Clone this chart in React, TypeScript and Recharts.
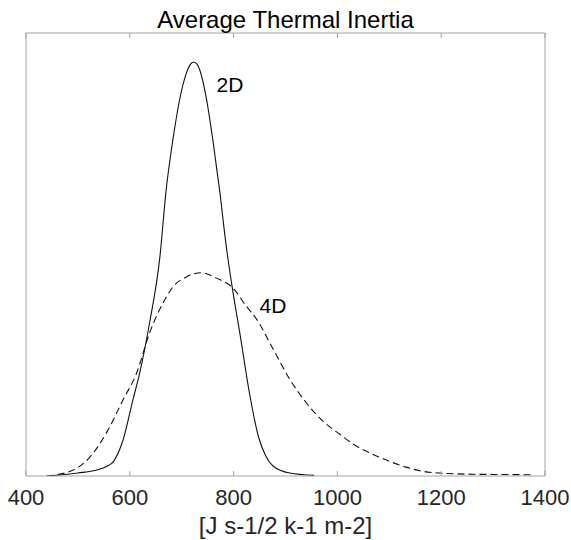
import * as React from "react"
import { Line, LineChart, ReferenceDot, XAxis, YAxis } from "recharts"

// kernel density estimates (x in J s-1/2 k-1 m-2, y density x1000)
const twoDX = [440, 500, 540, 555, 568, 587, 606, 619, 638, 658, 670, 683, 696, 709, 716, 723, 730, 735, 747, 760, 773, 786, 799, 812, 831, 848, 862, 876, 908, 955]
const twoDY = [0, 0.05, 0.11, 0.16, 0.24, 0.61, 1.29, 1.74, 2.59, 3.71, 4.84, 5.69, 6.37, 6.82, 6.96, 7.01, 6.97, 6.87, 6.42, 5.69, 4.84, 3.88, 3.1, 2.42, 1.38, 0.66, 0.34, 0.17, 0.05, 0.01]

const fourDX = [440, 491, 523, 555, 587, 613, 638, 664, 683, 709, 738, 767, 799, 824, 844, 876, 908, 940, 972, 1004, 1036, 1068, 1100, 1132, 1164, 1196, 1260, 1324, 1375]
const fourDY = [0, 0.1, 0.32, 0.73, 1.29, 1.74, 2.42, 2.93, 3.2, 3.37, 3.44, 3.35, 3.18, 2.88, 2.66, 2.15, 1.64, 1.24, 0.93, 0.71, 0.51, 0.37, 0.25, 0.15, 0.08, 0.05, 0.03, 0.025, 0.02]

const xTicks = [400, 600, 800, 1000, 1200, 1400]

const title = "Average Thermal Inertia"
const xLabel = "[J s-1/2 k-1 m-2]"

const font = "'Liberation Sans', Arial, Helvetica, sans-serif"
const boxColor = "#a3a3a3"
const textColor = "#262626"

const twoD = twoDX.map((x, i) => ({ x, y: twoDY[i] }))
const fourD = fourDX.map((x, i) => ({ x, y: fourDY[i] }))

function BottomTick(props: any) {
  const { x, y, payload } = props
  return (
    <g>
      <line x1={x} x2={x} y1={y} y2={y - 5} stroke={boxColor} />
      <text x={x} y={y + 29} textAnchor="middle" fontSize={22} fill={textColor} fontFamily={font}>
        {payload.value}
      </text>
    </g>
  )
}

function TopTick(props: any) {
  const { x, y } = props
  return <line x1={x} x2={x} y1={y} y2={y + 5} stroke={boxColor} />
}

function curveLabel(text: string) {
  return (p: any) => (
    <text x={p.cx} y={p.cy} fontSize={21} fill="#000" fontFamily={font}>
      {text}
    </text>
  )
}

export default function App() {
  return (
    <div style={{ position: "absolute", left: 0, top: 0, width: 571, height: 540, background: "#fff" }}>
      <LineChart width={571} height={540} margin={{ top: 32, right: 25, bottom: 0, left: 25 }}>
        <XAxis
          dataKey="x"
          type="number"
          domain={[400, 1400]}
          ticks={xTicks}
          height={64}
          tickSize={0}
          tickMargin={0}
          tickLine={false}
          axisLine={{ stroke: boxColor }}
          tick={<BottomTick />}
          allowDataOverflow
          label={{
            content: (p: any) => (
              <text
                x={p.viewBox.x + p.viewBox.width / 2}
                y={p.viewBox.y + 58}
                textAnchor="middle"
                fontSize={24}
                fill={textColor}
                fontFamily={font}
              >
                {xLabel}
              </text>
            )
          }}
        />
        <XAxis
          xAxisId="top"
          orientation="top"
          dataKey="x"
          type="number"
          domain={[400, 1400]}
          ticks={xTicks}
          height={1}
          tickSize={0}
          tickMargin={0}
          tickLine={false}
          axisLine={{ stroke: boxColor }}
          tick={<TopTick />}
          allowDataOverflow
          label={{
            content: (p: any) => (
              <text
                x={p.viewBox.x + p.viewBox.width / 2}
                y={p.viewBox.y - 4}
                textAnchor="middle"
                fontSize={24}
                fill="#000"
                fontFamily={font}
              >
                {title}
              </text>
            )
          }}
        />
        <YAxis domain={[0, 7.5]} width={1} tick={false} tickLine={false} axisLine={{ stroke: boxColor }} allowDataOverflow />
        <YAxis yAxisId="right" orientation="right" domain={[0, 7.5]} width={1} tick={false} tickLine={false} axisLine={{ stroke: boxColor }} />
        <Line
          data={twoD}
          dataKey="y"
          type="monotone"
          stroke="#111"
          strokeWidth={1.1}
          dot={false}
          isAnimationActive={false}
        />
        <Line
          data={fourD}
          dataKey="y"
          type="monotone"
          stroke="#111"
          strokeWidth={1.1}
          strokeDasharray="7 4"
          dot={false}
          isAnimationActive={false}
        />
        <ReferenceDot x={767} y={6.5} r={0} shape={curveLabel("2D")} />
        <ReferenceDot x={850} y={2.76} r={0} shape={curveLabel("4D")} />
      </LineChart>
    </div>
  )
}
